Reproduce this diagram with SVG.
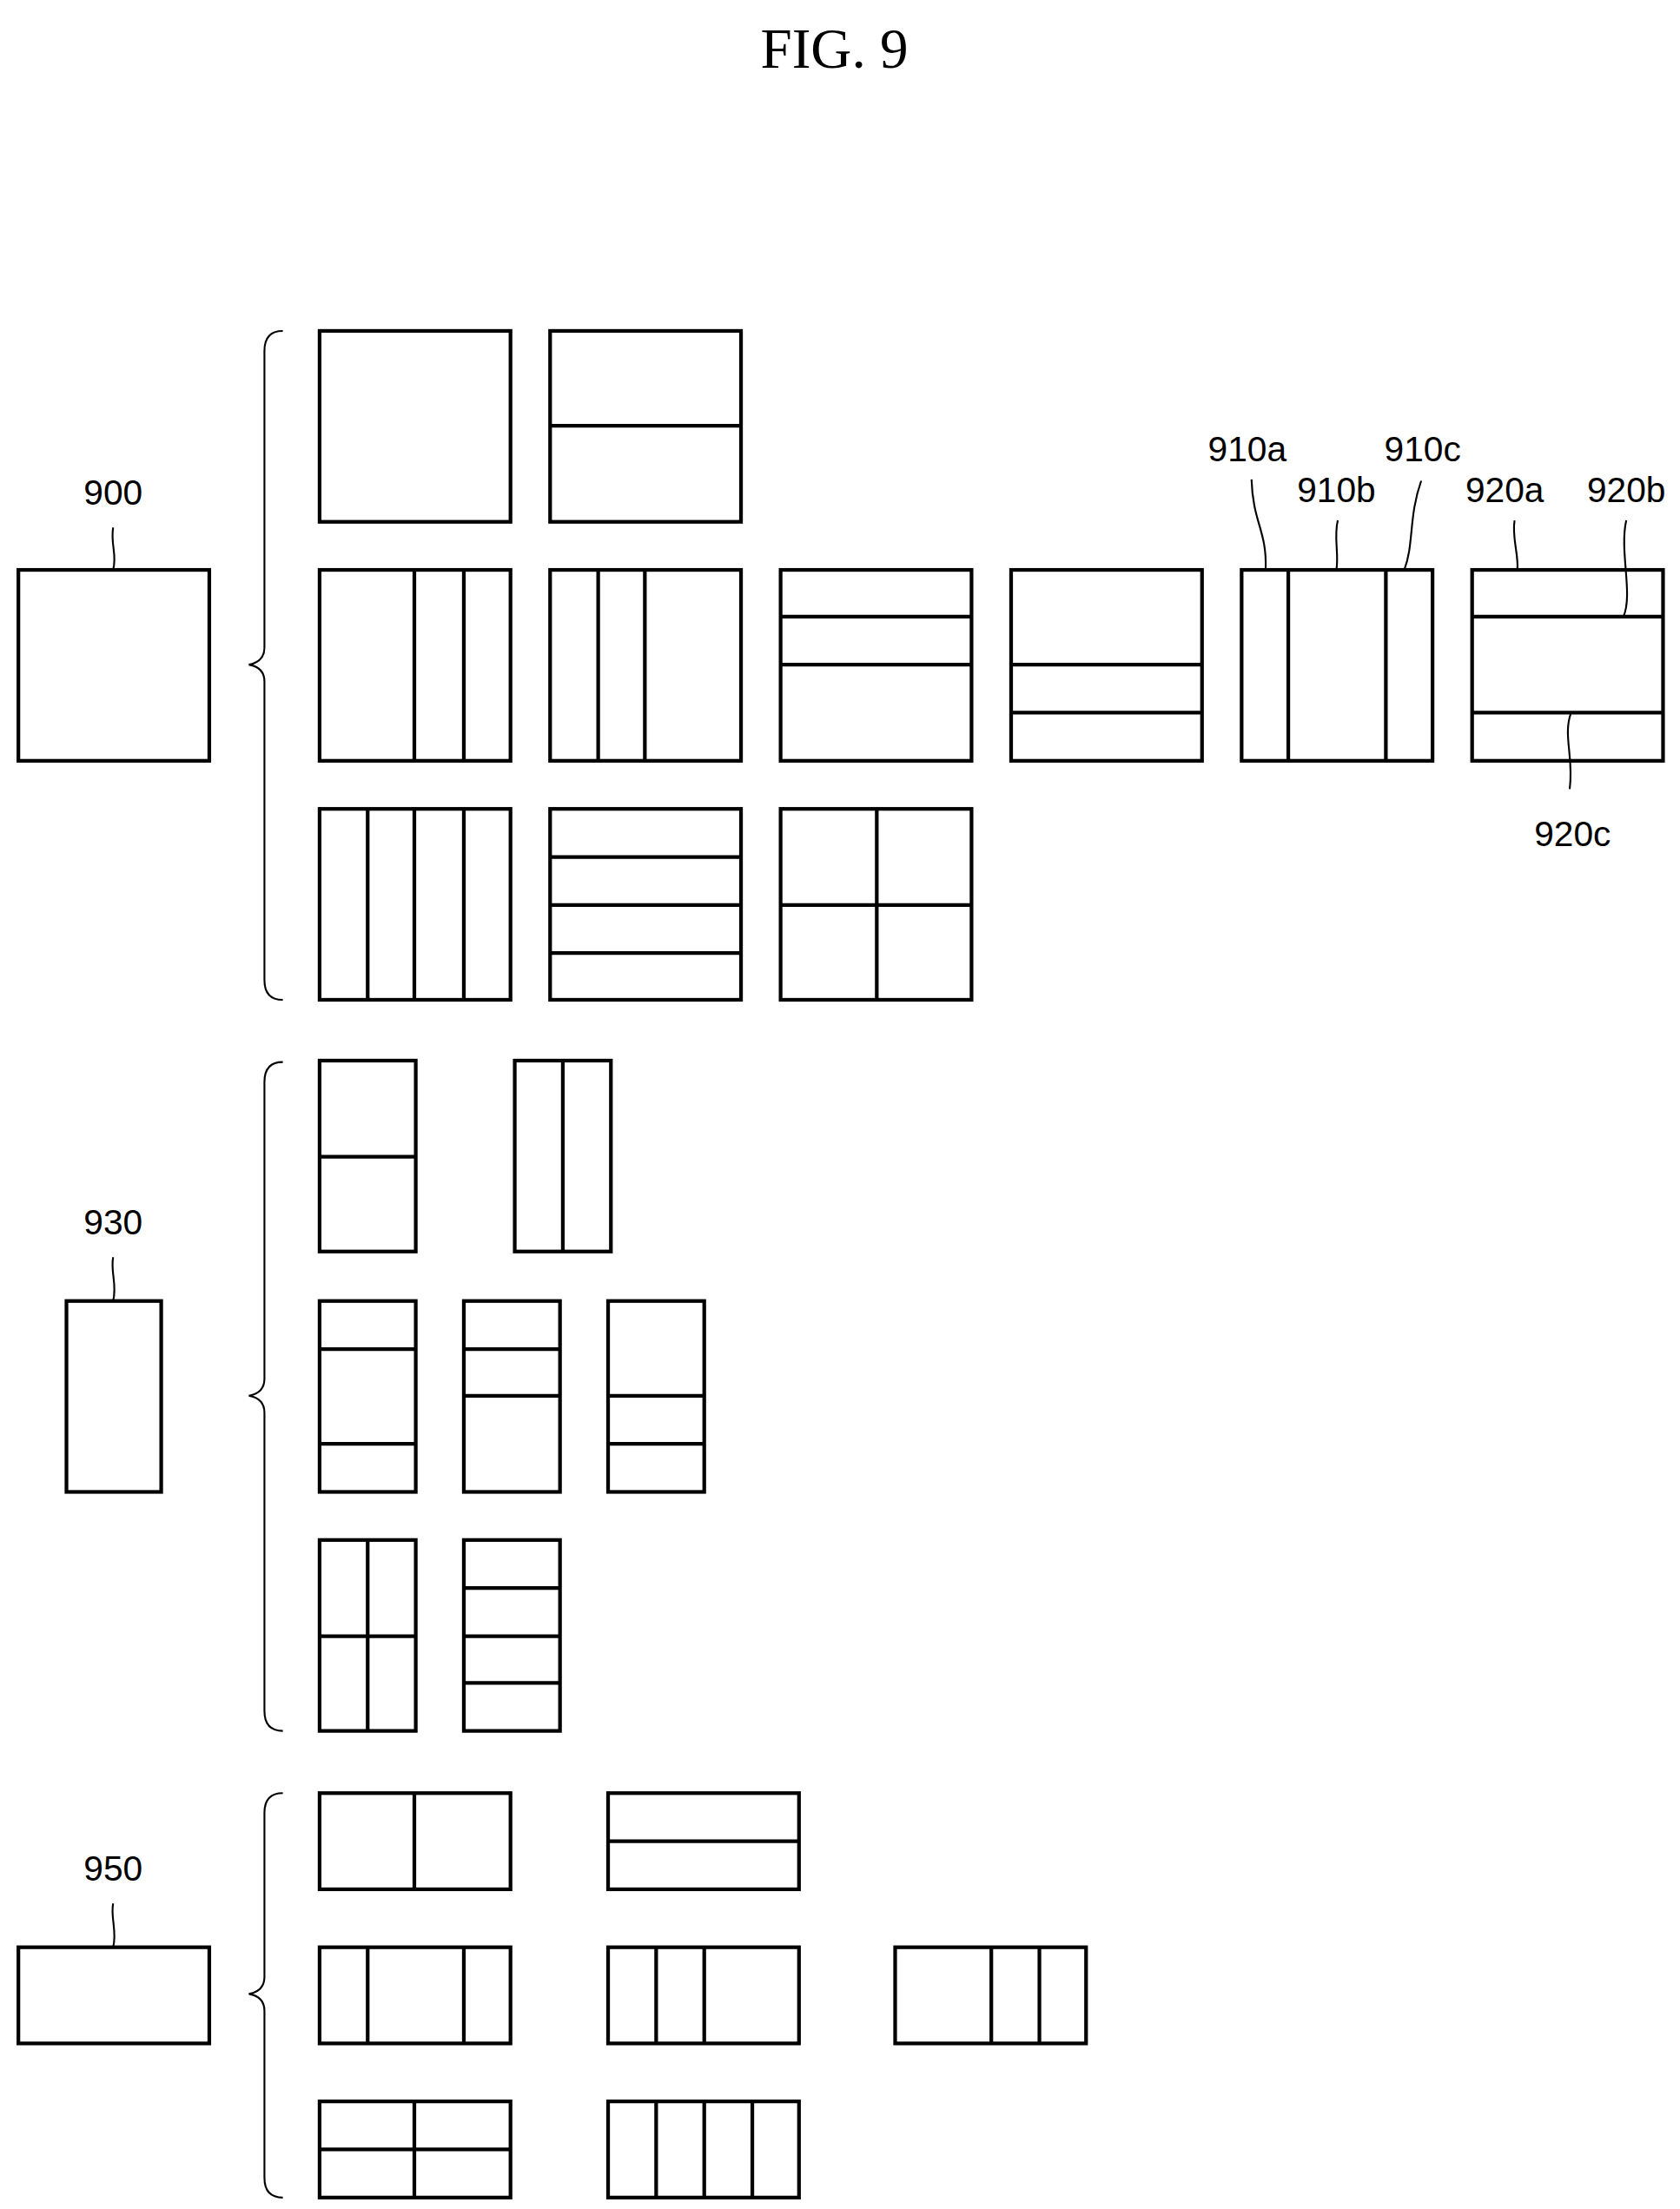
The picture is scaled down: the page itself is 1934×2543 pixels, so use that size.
<svg xmlns="http://www.w3.org/2000/svg" width="1934" height="2543" viewBox="0 0 1934 2543">
<style>
.b{fill:none;stroke:#000;stroke-width:2.6}
.l{fill:none;stroke:#000;stroke-width:1.3}
.t{font-family:"Liberation Sans",Arial,sans-serif;font-size:25px;fill:#000;text-anchor:middle}
.h{font-family:"Liberation Serif","Times New Roman",serif;font-size:40px;fill:#000;text-anchor:middle}
</style>
<rect width="1934" height="2543" fill="#fff"/>
<g transform="scale(1.62795)">
<text class="h" x="590" y="48">FIG. 9</text>
<g id="n900"><rect class="b" x="13" y="403" width="135" height="135"/><text class="t" x="80" y="357">900</text></g>
<g id="n930"><rect class="b" x="47" y="920" width="67" height="135"/><text class="t" x="80" y="873">930</text></g>
<g id="n950"><rect class="b" x="13" y="1377" width="135" height="68"/><text class="t" x="80" y="1330">950</text></g>
<g id="braces">
<path class="l" d="M200,234 Q187,234 187,248 V458 Q187,468 176,470 Q187,472 187,482 V693 Q187,707 200,707"/>
<path class="l" d="M200,751 Q187,751 187,765 V975 Q187,985 176,987 Q187,989 187,999 V1210 Q187,1224 200,1224"/>
<path class="l" d="M200,1268 Q187,1268 187,1282 V1398 Q187,1408 176,1410 Q187,1412 187,1422 V1540 Q187,1554 200,1554"/>
</g>
<g id="grid900">
<rect class="b" x="226" y="234" width="135" height="135"/>
<rect class="b" x="389" y="234" width="135" height="135"/><path class="b" d="M389,301H524"/>
<rect class="b" x="226" y="403" width="135" height="135"/><path class="b" d="M293,403V538M328,403V538"/>
<rect class="b" x="389" y="403" width="135" height="135"/><path class="b" d="M423,403V538M456,403V538"/>
<rect class="b" x="552" y="403" width="135" height="135"/><path class="b" d="M552,436H687M552,470H687"/>
<rect class="b" x="715" y="403" width="135" height="135"/><path class="b" d="M715,470H850M715,504H850"/>
<rect class="b" x="878" y="403" width="135" height="135"/><path class="b" d="M911,403V538M980,403V538"/>
<rect class="b" x="1041" y="403" width="135" height="135"/><path class="b" d="M1041,436H1176M1041,504H1176"/>
<rect class="b" x="226" y="572" width="135" height="135"/><path class="b" d="M260,572V707M293,572V707M328,572V707"/>
<rect class="b" x="389" y="572" width="135" height="135"/><path class="b" d="M389,606H524M389,640H524M389,674H524"/>
<rect class="b" x="552" y="572" width="135" height="135"/><path class="b" d="M620,572V707M552,640H687"/>
</g>
<g id="grid930">
<rect class="b" x="226" y="750" width="68" height="135"/><path class="b" d="M226,818H294"/>
<rect class="b" x="364" y="750" width="68" height="135"/><path class="b" d="M398,750V885"/>
<rect class="b" x="226" y="920" width="68" height="135"/><path class="b" d="M226,954H294M226,1021H294"/>
<rect class="b" x="328" y="920" width="68" height="135"/><path class="b" d="M328,954H396M328,987H396"/>
<rect class="b" x="430" y="920" width="68" height="135"/><path class="b" d="M430,987H498M430,1021H498"/>
<rect class="b" x="226" y="1089" width="68" height="135"/><path class="b" d="M260,1089V1224M226,1157H294"/>
<rect class="b" x="328" y="1089" width="68" height="135"/><path class="b" d="M328,1123H396M328,1157H396M328,1190H396"/>
</g>
<g id="grid950">
<rect class="b" x="226" y="1268" width="135" height="68"/><path class="b" d="M293,1268V1336"/>
<rect class="b" x="430" y="1268" width="135" height="68"/><path class="b" d="M430,1302H565"/>
<rect class="b" x="226" y="1377" width="135" height="68"/><path class="b" d="M260,1377V1445M328,1377V1445"/>
<rect class="b" x="430" y="1377" width="135" height="68"/><path class="b" d="M464,1377V1445M498,1377V1445"/>
<rect class="b" x="633" y="1377" width="135" height="68"/><path class="b" d="M701,1377V1445M735,1377V1445"/>
<rect class="b" x="226" y="1486" width="135" height="68"/><path class="b" d="M293,1486V1554M226,1520H361"/>
<rect class="b" x="430" y="1486" width="135" height="68"/><path class="b" d="M464,1486V1554M498,1486V1554M532,1486V1554"/>
</g>
<g id="labels">
<text class="t" x="882" y="326">910a</text>
<text class="t" x="945" y="355">910b</text>
<text class="t" x="1006" y="326">910c</text>
<text class="t" x="1064" y="355">920a</text>
<text class="t" x="1150" y="355">920b</text>
<text class="t" x="1112" y="598">920c</text>
</g>
<g id="connectors">
<path class="l" d="M80,373 C78,385 83,392 80,403"/>
<path class="l" d="M80,889 C78,900 83,908 80,920"/>
<path class="l" d="M80,1346 C78,1356 83,1366 80,1377"/>
<path class="l" d="M885,339 C886,370 896,375 895,403"/>
<path class="l" d="M946,368 C943,380 947,392 945,403"/>
<path class="l" d="M1005,340 C996,365 1000,385 993,403"/>
<path class="l" d="M1071,368 C1069,380 1074,392 1073,403"/>
<path class="l" d="M1150,368 C1145,390 1155,420 1148,436"/>
<path class="l" d="M1111,504 C1105,520 1113,535 1110,558"/>
</g>
</g>
</svg>
